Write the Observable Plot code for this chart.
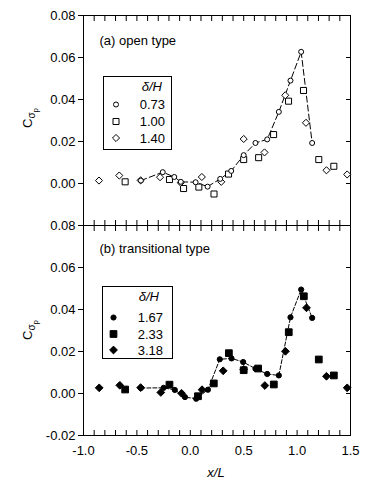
<!DOCTYPE html>
<html><head><meta charset="utf-8">
<script src="https://cdn.jsdelivr.net/npm/d3@7"></script>
<script src="https://cdn.jsdelivr.net/npm/@observablehq/plot@0.6"></script>
<style>
body{margin:0;background:#fff;}
#wrap{position:relative;width:386px;height:489px;}
#wrap svg{position:absolute;left:0;overflow:visible;}
</style>
</head><body><div id="wrap"></div>
<script>
// ---- data ----
const topCircleX = [-0.463, -0.258, -0.15, -0.089, 0.05, 0.162, 0.28, 0.383, 0.50, 0.61, 0.72, 0.829, 0.938, 1.038, 1.141];
const topCircleY = [0.0014, 0.0054, 0.0031, 0.0008, 0.0006, -0.0015, 0.0022, 0.0060, 0.0135, 0.0193, 0.0210, 0.0341, 0.0490, 0.0627, 0.0193];
const topSquareX = [-0.61, -0.195, -0.063, 0.08, 0.222, 0.358, 0.50, 0.64, 0.78, 0.92, 1.06, 1.203, 1.344];
const topSquareY = [0.0008, 0.0019, -0.0024, -0.0017, -0.0050, 0.0045, 0.0114, 0.0123, 0.0233, 0.0392, 0.0443, 0.0114, 0.0082];
const topDiamondX = [-0.855, -0.665, -0.465, -0.283, -0.09, 0.108, 0.29, 0.50, 0.695, 0.889, 1.083, 1.275, 1.469];
const topDiamondY = [0.0014, 0.0038, 0.0015, 0.0030, 0.0004, 0.0031, 0.0008, 0.0212, 0.0148, 0.0420, 0.0289, 0.0063, 0.0043];

const botCircleX = [-0.463, -0.25, -0.145, -0.05, 0.055, 0.165, 0.276, 0.386, 0.495, 0.61, 0.72, 0.829, 0.938, 1.038, 1.141];
const botCircleY = [0.0026, 0.0027, 0.0017, -0.0017, -0.0025, 0.0018, 0.0163, 0.0167, 0.0150, 0.0118, 0.0093, 0.0086, 0.0363, 0.0495, 0.0360];
const botSquareX = [-0.61, -0.195, 0.072, 0.22, 0.361, 0.50, 0.635, 0.782, 0.922, 1.063, 1.203, 1.344];
const botSquareY = [0.0019, 0.0042, -0.0013, 0.0048, 0.0192, 0.0111, 0.0119, 0.0043, 0.0292, 0.0463, 0.0162, 0.0086];
const botDiamondX = [-0.853, -0.66, -0.465, -0.276, -0.082, 0.11, 0.308, 0.50, 0.698, 0.891, 1.088, 1.275, 1.469];
const botDiamondY = [0.0027, 0.0039, 0.0028, 0.0005, 0.0001, 0.0018, 0.0108, 0.0115, 0.0038, 0.0201, 0.0408, 0.0082, 0.0027];

const topLegend = ["0.73", "1.00", "1.40"];
const botLegend = ["1.67", "2.33", "3.18"];
const topTitle = "(a) open type";
const botTitle = "(b) transitional type";

const xLabelTicks = [-1.0, -0.5, 0.0, 0.5, 1.0, 1.5];
const xMinorTicks = [-0.9,-0.8,-0.7,-0.6,-0.5,-0.4,-0.3,-0.2,-0.1,0,0.1,0.2,0.3,0.4,0.5,0.6,0.7,0.8,0.9,1.0,1.1,1.2,1.3,1.4];
const topYTicks = [0.00, 0.02, 0.04, 0.06, 0.08];
const botYTicks = [-0.02, 0.00, 0.02, 0.04, 0.06, 0.08];
const rightYTicks = [0.00, 0.02, 0.04, 0.06];

const zip = (xs, ys) => xs.map((x, i) => ({x, y: ys[i]}));
const FONT = "'Liberation Sans', Arial, sans-serif";

function panel({circles, squares, diamonds, filled, height, marginTop, marginBottom, yTicks, showXLabels, dash, title, titleDy}) {
  const fill = filled ? "black" : "white";
  const marks = [
    Plot.frame({stroke: "black"}),
    Plot.axisY(yTicks, {anchor: "left", tickSize: 5, tickPadding: 3, tickFormat: d => d.toFixed(2), fontSize: 13, label: null}),
    Plot.axisY(rightYTicks, {anchor: "right", tickSize: 5, dx: -5, text: null, label: null}),
    Plot.axisX(xMinorTicks, {anchor: "top", tickSize: 5, dy: 5, text: null, label: null}),
    Plot.axisX(xMinorTicks, {anchor: "bottom", tickSize: 5, dy: -5, text: null, label: null}),
    Plot.text([title], {frameAnchor: "top-left", dx: 16, dy: titleDy, fontSize: 13, fill: "black", lineAnchor: "middle"}),
    Plot.line(circles, {x: "x", y: "y", stroke: "black", strokeWidth: 1, strokeDasharray: dash}),
    Plot.dot(squares, {x: "x", y: "y", symbol: "square", r: filled ? 3.8 : 3.4, fill, stroke: "black", strokeWidth: 1}),
    Plot.dot(diamonds, {x: "x", y: "y", symbol: "diamond2", r: filled ? 3.5 : 3.2, fill, stroke: "black", strokeWidth: 1}),
    Plot.dot(circles, {x: "x", y: "y", symbol: "circle", r: filled ? 2.6 : 2.5, fill, stroke: "black", strokeWidth: 1})
  ];
  if (showXLabels) {
    marks.push(Plot.axisX(xLabelTicks, {anchor: "bottom", tickSize: 0, tickPadding: 10, tickFormat: d => d.toFixed(1), fontSize: 13, label: null}));
  }
  return Plot.plot({
    width: 386, height, marginLeft: 83, marginRight: 36, marginTop, marginBottom,
    x: {domain: [-1, 1.5]},
    y: {domain: [-0.02, 0.08]},
    style: {fontFamily: FONT, fontSize: "13px", color: "black", background: "transparent", overflow: "visible"},
    marks
  });
}

const topSvg = panel({
  circles: zip(topCircleX, topCircleY), squares: zip(topSquareX, topSquareY), diamonds: zip(topDiamondX, topDiamondY),
  filled: false, height: 225, marginTop: 15, marginBottom: 0, yTicks: topYTicks, showXLabels: false, dash: "6,3",
  title: topTitle, titleDy: 25
});
const botSvg = panel({
  circles: zip(botCircleX, botCircleY), squares: zip(botSquareX, botSquareY), diamonds: zip(botDiamondX, botDiamondY),
  filled: true, height: 264, marginTop: 0, marginBottom: 54, yTicks: botYTicks, showXLabels: true, dash: "4,2",
  title: botTitle, titleDy: 23
});
topSvg.style.top = "0px";
botSvg.style.top = "225px";
const wrap = document.getElementById("wrap");
wrap.appendChild(topSvg);
wrap.appendChild(botSvg);

function decorate(svg, {box, legend, filled, labelY}) {
  const s = d3.select(svg);
  const fill = filled ? "black" : "white";
  s.append("rect").attr("x", box.x + 0.5).attr("y", box.y + 0.5).attr("width", box.w).attr("height", box.h)
    .attr("fill", "white").attr("stroke", "black");
  s.append("text").attr("x", box.hx).attr("y", box.hy).attr("text-anchor", "end").attr("font-size", 13)
    .attr("font-style", "italic").attr("fill", "black").text("\u03B4/H");
  const syms = [
    [d3.symbolCircle, filled ? 2.6 : 2.5],
    [d3.symbolSquare, filled ? 3.8 : 3.4],
    [d3.symbolDiamond2, filled ? 3.5 : 3.2]
  ];
  legend.forEach((lab, i) => {
    const cy = box.rows[i];
    const [sym, r] = syms[i];
    s.append("path").attr("transform", `translate(${box.sx},${cy})`)
      .attr("d", d3.symbol(sym, Math.PI * r * r)())
      .attr("fill", fill).attr("stroke", "black");
    s.append("text").attr("x", box.tx).attr("y", cy + 4.5).attr("text-anchor", "end")
      .attr("font-size", 13).attr("fill", "black").text(lab);
  });
  const yl = s.append("text").attr("transform", `translate(32,${labelY}) rotate(-90)`)
    .attr("text-anchor", "middle").attr("font-size", 13).attr("fill", "black");
  yl.append("tspan").text("C");
  yl.append("tspan").attr("font-size", 10).attr("dy", 3).text("\u03C3");
  yl.append("tspan").attr("font-size", 8).attr("dy", 3).text("p");
}

decorate(topSvg, {
  legend: topLegend, filled: false, labelY: 118,
  box: {x: 103, y: 76, w: 68, h: 73, hx: 162, hy: 91, sx: 116, tx: 165, rows: [104.5, 121.5, 138]}
});
decorate(botSvg, {
  legend: botLegend, filled: true, labelY: 330 - 225,
  box: {x: 102, y: 286 - 225, w: 70, h: 72, hx: 159, hy: 301 - 225, sx: 113.5, tx: 163, rows: [317.5 - 225, 334 - 225, 350 - 225]}
});
d3.select(botSvg).append("text").attr("x", 216).attr("y", 477 - 225).attr("text-anchor", "middle")
  .attr("font-size", 13).attr("font-style", "italic").attr("fill", "black").text("x/L");
</script>
</body></html>
